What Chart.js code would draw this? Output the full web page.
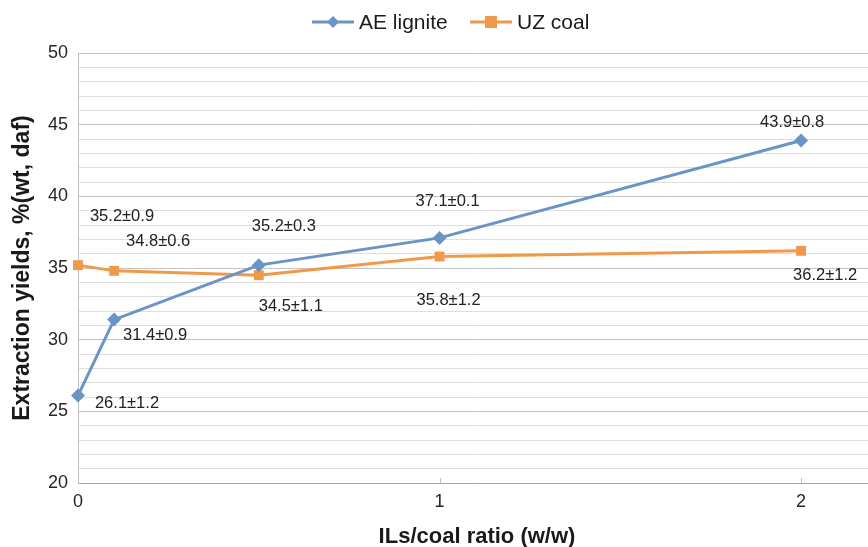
<!DOCTYPE html>
<html>
<head>
<meta charset="utf-8">
<script src="https://cdn.jsdelivr.net/npm/chart.js@4.4.1/dist/chart.umd.min.js"></script>
<style>
  html, body { margin: 0; padding: 0; background: #ffffff; }
  canvas { display: block; }
</style>
</head>
<body>
<canvas id="chart" width="868" height="547"></canvas>
<script>
// IL/coal ratio (w/w)
const ratios = [0, 0.1, 0.5, 1, 2];
// Extraction yields, % (wt, daf) with ± deviation
const aeLignite = [26.1, 31.4, 35.2, 37.1, 43.9];
const aeDev = [1.2, 0.9, 0.3, 0.1, 0.8];
const uzCoal = [35.2, 34.8, 34.5, 35.8, 36.2];
const uzDev = [0.9, 0.6, 1.1, 1.2, 1.2];
const xTickValues = [0, 1, 2];

const BLUE = '#6b94c6';
const ORANGE = '#f0994b';
const FONT = '"Liberation Sans", Arial, sans-serif';

// label placement around each point (pixels: dx, dy of text centre)
const aeLabelOffsets = [[49, 8], [41, 16], [25, -39], [8, -36], [-9, -18]];
const uzLabelOffsets = [[44, -49], [44, -29], [32, 31], [9, 44], [24, 25]];

const toPoints = (xs, ys) => xs.map((x, i) => ({ x: x, y: ys[i] }));

const valueLabels = {
  id: 'valueLabels',
  afterDatasetsDraw(chart) {
    const ctx = chart.ctx;
    ctx.save();
    ctx.font = '16.5px ' + FONT;
    ctx.fillStyle = '#222222';
    ctx.textAlign = 'center';
    ctx.textBaseline = 'middle';
    const sets = [[aeLignite, aeDev, aeLabelOffsets], [uzCoal, uzDev, uzLabelOffsets]];
    sets.forEach((s, di) => {
      const meta = chart.getDatasetMeta(di);
      meta.data.forEach((pt, i) => {
        const txt = s[0][i].toFixed(1) + '\u00b1' + s[1][i].toFixed(1);
        ctx.fillText(txt, pt.x + s[2][i][0], pt.y + s[2][i][1]);
      });
    });
    ctx.restore();
  }
};

const decorations = {
  id: 'decorations',
  afterDraw(chart) {
    const ctx = chart.ctx;
    const area = chart.chartArea;
    const xs = chart.scales.x;
    ctx.save();
    // small tick marks on the ratio axis
    ctx.strokeStyle = '#bfbfbf';
    ctx.lineWidth = 1;
    xTickValues.forEach(v => {
      const px = Math.round(xs.getPixelForValue(v)) + 0.5;
      ctx.beginPath();
      ctx.moveTo(px, area.bottom);
      ctx.lineTo(px, area.bottom - 5);
      ctx.stroke();
    });
    // axis titles
    ctx.fillStyle = '#1a1a1a';
    ctx.textAlign = 'center';
    ctx.textBaseline = 'middle';
    ctx.font = 'bold 22px ' + FONT;
    ctx.fillText('ILs/coal ratio (w/w)', 477, 537);
    ctx.font = 'bold 23px ' + FONT;
    ctx.translate(23, (area.top + area.bottom) / 2);
    ctx.rotate(-Math.PI / 2);
    ctx.fillText('Extraction yields, %(wt, daf)', 0, 0);
    ctx.restore();

    // legend
    ctx.save();
    ctx.font = '21px ' + FONT;
    ctx.textBaseline = 'middle';
    ctx.textAlign = 'left';
    const ly = 22;
    const items = [
      { x0: 312, color: BLUE, marker: 'diamond', text: 'AE lignite' },
      { x0: 470, color: ORANGE, marker: 'square', text: 'UZ coal' }
    ];
    items.forEach(it => {
      ctx.strokeStyle = it.color;
      ctx.lineWidth = 3;
      ctx.beginPath();
      ctx.moveTo(it.x0, ly);
      ctx.lineTo(it.x0 + 42, ly);
      ctx.stroke();
      const cx = it.x0 + 21;
      ctx.fillStyle = it.color;
      ctx.beginPath();
      if (it.marker === 'diamond') {
        ctx.moveTo(cx, ly - 6); ctx.lineTo(cx + 6, ly); ctx.lineTo(cx, ly + 6); ctx.lineTo(cx - 6, ly);
      } else {
        ctx.rect(cx - 6, ly - 6, 12, 12);
      }
      ctx.closePath();
      ctx.fill();
      ctx.fillStyle = '#1a1a1a';
      ctx.fillText(it.text, it.x0 + 47, ly + 1);
    });
    ctx.restore();
  }
};

new Chart(document.getElementById('chart'), {
  type: 'line',
  data: {
    datasets: [
      {
        label: 'AE lignite',
        data: toPoints(ratios, aeLignite),
        borderColor: BLUE,
        backgroundColor: BLUE,
        borderWidth: 3,
        pointStyle: 'rectRot',
        pointRadius: 7,
        pointHoverRadius: 7,
        pointBorderWidth: 0,
        tension: 0,
        clip: false
      },
      {
        label: 'UZ coal',
        data: toPoints(ratios, uzCoal),
        borderColor: ORANGE,
        backgroundColor: ORANGE,
        borderWidth: 3,
        pointStyle: 'rect',
        pointRadius: 7,
        pointHoverRadius: 7,
        pointBorderWidth: 0,
        tension: 0,
        clip: false
      }
    ]
  },
  options: {
    responsive: false,
    animation: false,
    devicePixelRatio: 1,
    layout: { autoPadding: false, padding: { top: 53, left: 0, right: 0, bottom: 0 } },
    plugins: {
      legend: { display: false },
      tooltip: { enabled: false },
      title: { display: false }
    },
    scales: {
      x: {
        type: 'linear',
        min: 0,
        max: 2.185,
        afterBuildTicks: s => { s.ticks = xTickValues.map(v => ({ value: v })); },
        afterFit: s => { s.height = 64; s.paddingLeft = 0; s.paddingRight = 0; },
        ticks: {
          color: '#262626',
          font: { family: FONT, size: 18 },
          padding: 8,
          maxRotation: 0,
          autoSkip: false,
          callback: v => String(v)
        },
        grid: { display: false, drawTicks: false },
        border: { display: true, color: '#a6a6a6', width: 1 }
      },
      y: {
        min: 20,
        max: 50,
        afterFit: s => { s.width = 78; s.paddingTop = 0; s.paddingBottom = 0; },
        ticks: {
          stepSize: 1,
          autoSkip: false,
          color: '#262626',
          font: { family: FONT, size: 18 },
          padding: 10,
          callback: v => (v % 5 === 0 ? String(v) : '')
        },
        grid: {
          drawTicks: false,
          color: c => (c.tick && c.tick.value % 5 === 0 ? '#c3c3c3' : '#dedede'),
          lineWidth: 1
        },
        border: { display: true, color: '#bfbfbf', width: 1 }
      }
    }
  },
  plugins: [valueLabels, decorations]
});
</script>
</body>
</html>
